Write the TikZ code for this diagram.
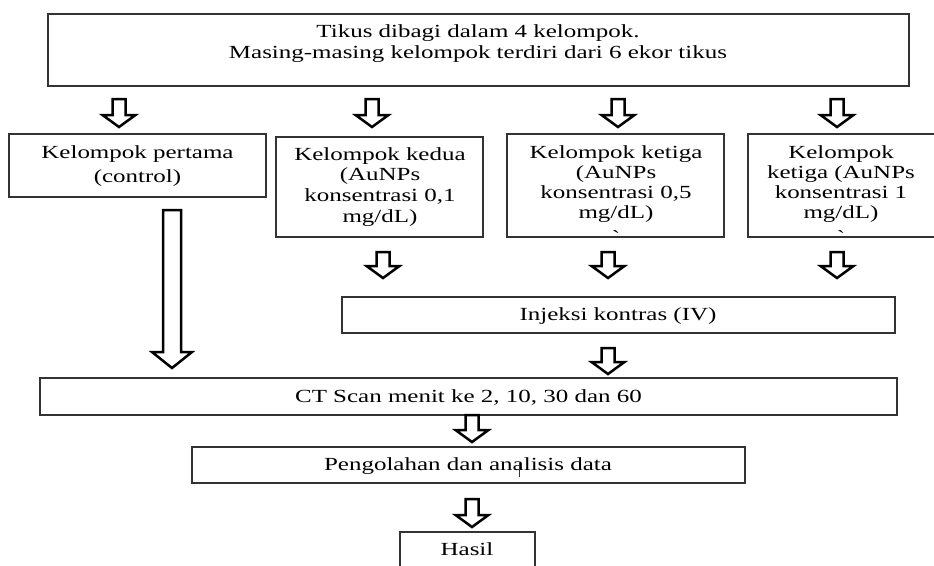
\documentclass[tikz,border=0pt]{standalone}
\usepackage{fontspec}
\setmainfont{Liberation Serif}[FakeStretch=1.35]
\newfontfamily\rawserif{Liberation Serif}[FakeStretch=1.35]
\usetikzlibrary{fit}
\tikzset{
  box/.style={draw=black!80, line width=1.3pt, inner sep=0pt},
  txt/.style={font=\fontsize{18.5}{20.7}\selectfont, text=black, align=center, inner sep=0pt},
  arrowline/.style={draw=black, line width=2.5pt, fill=white, line join=miter},
  pics/barrow/.style n args={4}{code={
    \draw[arrowline] ({-#1/2},0) -- ({#1/2},0) -- ({#1/2},{#3-#4}) -- ({#2/2},{#3-#4})
      -- (0,#3) -- ({-#2/2},{#3-#4}) -- ({-#1/2},{#3-#4}) -- cycle;
  }}
}
\begin{document}
\begin{tikzpicture}[x=1pt,y=-1pt]
\fill[white] (0,0) rectangle (934,565);
\useasboundingbox (0,0) rectangle (934,565);
\clip (0,0) rectangle (934,565);

% boxes
\node[box, fit={(48,14) (909,86)}] (top) {};
\node[box, fit={(9,134) (266,197)}] (g1) {};
\node[box, fit={(276,137) (483,237)}] (g2) {};
\node[box, fit={(507,134) (724,237)}] (g3) {};
\node[box, fit={(748,134) (945,237)}] (g4) {};
\node[box, fit={(342,297) (895,333)}] (inj) {};
\node[box, fit={(40,378) (897,415)}] (ct) {};
\node[box, fit={(192,447) (745,483)}] (pa) {};
\node[box, fit={(400,532) (535,590)}] (hasil) {};

% texts
\node[txt, font=\fontsize{18.5}{21}\selectfont] (ttop) at (478,43.2) {Tikus dibagi dalam 4 kelompok.\\Masing-masing kelompok terdiri dari 6 ekor tikus};
\node[txt, font=\fontsize{18.5}{24}\selectfont] (t1) at (137.5,165.7) {Kelompok pertama\\(control)};
\node[txt] (t2) at (380,186.7) {Kelompok kedua\\(AuNPs\\konsentrasi 0,1\\mg/dL)};
\node[txt, font=\fontsize{18.5}{20}\selectfont] (t3) at (616,183.7) {Kelompok ketiga\\(AuNPs\\konsentrasi 0,5\\mg/dL)};
\node[txt, font=\fontsize{18.5}{20}\selectfont] (t4) at (841,183.7) {Kelompok\\ketiga (AuNPs\\konsentrasi 1\\mg/dL)};
\node[txt, anchor=base] (b3) at (616,243) {\rawserif `};
\node[txt, anchor=base] (b4) at (841,243) {\rawserif `};
\node[txt, anchor=base] (tinj) at (618,320) {Injeksi kontras (IV)};
\node[txt, anchor=base] (tct) at (468.5,402) {CT Scan menit ke 2, 10, 30 dan 60};
\node[txt, anchor=base] (tpa) at (468,470) {Pengolahan dan analisis data};
\node[txt, anchor=base] (thasil) at (467,555) {Hasil};
\draw[line width=0.8pt, black!80] (519,463) -- (519,477);

% block arrows
\pic (r1a) at (119,99) {barrow={13}{33}{28}{12}};
\pic (r1b) at (372,99) {barrow={13}{33}{28}{12}};
\pic (r1c) at (618,99) {barrow={13}{33}{28}{12}};
\pic (r1d) at (837,99) {barrow={13}{33}{28}{12}};
\pic (long) at (172,210) {barrow={18}{40}{158}{16}};
\pic (r2b) at (383,252) {barrow={13}{33}{26}{12}};
\pic (r2c) at (608,252) {barrow={13}{33}{26}{12}};
\pic (r2d) at (837,252) {barrow={13}{33}{26}{12}};
\pic (ainj) at (608,348) {barrow={13}{33}{26}{12}};
\pic (act) at (472,415) {barrow={13}{33}{27}{12}};
\pic (apa) at (472,499) {barrow={13}{33}{28}{12}};
\end{tikzpicture}
\end{document}
